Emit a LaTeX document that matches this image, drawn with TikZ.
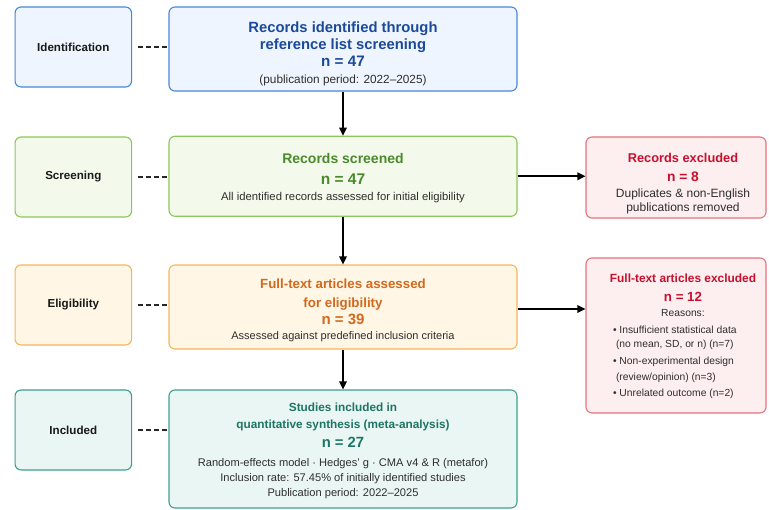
\documentclass[tikz,border=0pt]{standalone}
\usepackage{fontspec}
\setmainfont{Liberation Sans}
\usetikzlibrary{arrows.meta}
\definecolor{bluebd}{HTML}{4A87D9}
\definecolor{bluefl}{HTML}{EEF5FE}
\definecolor{bluetx}{HTML}{1C4A9A}
\definecolor{grnbd}{HTML}{8DC65B}
\definecolor{grnfl}{HTML}{F3FAEC}
\definecolor{grntx}{HTML}{4B8A2C}
\definecolor{orgbd}{HTML}{F7B55B}
\definecolor{orgfl}{HTML}{FFF6E5}
\definecolor{orgtx}{HTML}{D2691E}
\definecolor{tealbd}{HTML}{3FA08E}
\definecolor{tealfl}{HTML}{E9F6F3}
\definecolor{tealtx}{HTML}{1E7566}
\definecolor{redbd}{HTML}{E5737A}
\definecolor{redfl}{HTML}{FDEEEF}
\definecolor{redtx}{HTML}{C8102E}
\definecolor{bodytx}{HTML}{2E2E2E}
\newcommand\myfs[2]{\fontsize{#1}{#2}\selectfont}
\newcommand\mytop[1]{\rule{0pt}{#1}}
\newcommand\mysh{\hspace*{14pt}}
\begin{document}
\begin{tikzpicture}[x=1pt,y=-1pt,
  box/.style={draw, rounded corners=6pt, line width=1.1pt, align=center, inner sep=0pt, text=bodytx},
  stagebox/.style={box, minimum width=116.5pt, minimum height=80pt, font=\bfseries\myfs{11.6}{14}, text=black!90},
  mainbox/.style={box, minimum width=348pt},
  exbox/.style={box, minimum width=180pt, draw=redbd, fill=redfl},
  bluec/.style={draw=bluebd, fill=bluefl},
  grnc/.style={draw=grnbd, fill=grnfl},
  orgc/.style={draw=orgbd, fill=orgfl},
  tealc/.style={draw=tealbd, fill=tealfl},
  arr/.style={line width=1.6pt, draw=black, -{Triangle[length=8pt,width=7.5pt]}},
  dl/.style={line width=1.5pt, draw=black!85, dash pattern=on 5pt off 3pt}
]
\useasboundingbox[fill=white] (0,0) rectangle (769,510);

% stage labels
\node[stagebox, bluec] (lid) at (73.3,47) {Identification};
\node[stagebox, grnc] (lsc) at (73.3,177) {Screening};
\node[stagebox, orgc] (lel) at (73.3,305) {Eligibility};
\node[stagebox, tealc] (lin) at (73.3,430) {Included};

% main boxes
\node[mainbox, bluec, minimum height=84pt, font=\myfs{10}{16.6}] (b1) at (343,49) {%
  \mytop{20pt}{\color{bluetx}\bfseries\myfs{14.8}{17}Records identified through}\\
  {\color{bluetx}\bfseries\myfs{14.8}{17}reference list screening}\\[1.2pt]
  {\color{bluetx}\bfseries\myfs{15.2}{17}n = 47}\\[-0.5pt]
  {\myfs{11.8}{14}(publication period: 2022–2025)}};

\node[mainbox, grnc, minimum height=80pt, font=\myfs{10}{15.9}] (b2) at (343,176.3) {%
  \mytop{13.5pt}{\color{grntx}\bfseries\myfs{14}{16}Records screened}\\[4.6pt]
  {\color{grntx}\bfseries\myfs{15.5}{17}n = 47}\\
  {\myfs{11.3}{13}All identified records assessed for initial eligibility}};

\node[mainbox, orgc, minimum height=84pt, font=\myfs{10}{15}] (b3) at (343,307) {%
  \mytop{15.8pt}{\color{orgtx}\bfseries\myfs{13.3}{15}Full-text articles assessed}\\[4pt]
  {\color{orgtx}\bfseries\myfs{13.3}{15}for eligibility}\\[1.6pt]
  {\color{orgtx}\bfseries\myfs{15}{17}n = 39}\\[-0.1pt]
  {\myfs{11}{13}Assessed against predefined inclusion criteria}};

\node[mainbox, tealc, minimum height=118pt, font=\myfs{10}{15}] (b4) at (343,449) {%
  \mytop{11.6pt}{\color{tealtx}\bfseries\myfs{11.8}{14}Studies included in}\\[2pt]
  {\color{tealtx}\bfseries\myfs{11.8}{14}quantitative synthesis (meta-analysis)}\\[4.1pt]
  {\color{tealtx}\bfseries\myfs{14.8}{17}n = 27}\\[4pt]
  {\myfs{11.1}{13}Random-effects model · Hedges’ g · CMA v4 \& R (metafor)}\\
  {\myfs{11.1}{13}Inclusion rate: 57.45\% of initially identified studies}\\
  {\myfs{11.1}{13}Publication period: 2022–2025}};

% exclusion boxes
\node[exbox, minimum height=81pt, font=\myfs{10}{14}] (e1) at (676,177.5) {%
  \mysh\mytop{21pt}{\color{redtx}\bfseries\myfs{12.8}{15}Records excluded}\\[5.3pt]
  \mysh{\color{redtx}\bfseries\myfs{13.8}{16}n = 8}\\[1.7pt]
  \mysh{\myfs{12}{14}Duplicates \& non-English}\\
  \mysh{\myfs{12}{14}publications removed}};

\node[exbox, minimum height=155pt, font=\myfs{10.3}{16}] (e2) at (676,335.5) {%
  \mysh\mytop{10pt}{\color{redtx}\bfseries\myfs{11.9}{14}Full-text articles excluded}\\[2.5pt]
  \mysh{\color{redtx}\bfseries\myfs{13.3}{16}n = 12}\\[-0.7pt]
  \mysh{Reasons:}\\[1pt]
  \mysh\makebox[140pt][l]{•\ Insufficient statistical data}\\[-2pt]
  \mysh\makebox[140pt][l]{\hspace*{3pt}(no mean, SD, or n) (n=7)}\\[1pt]
  \mysh\makebox[140pt][l]{•\ Non-experimental design}\\
  \mysh\makebox[140pt][l]{\hspace*{3pt}(review/opinion) (n=3)}\\
  \mysh\makebox[140pt][l]{•\ Unrelated outcome (n=2)}};

% dashed links
\draw[dl] ([xshift=5.5pt]lid.east) -- (lid.east -| b1.west);
\draw[dl] ([xshift=5.5pt]lsc.east) -- (lsc.east -| b2.west);
\draw[dl] ([xshift=5.5pt]lel.east) -- (lel.east -| b3.west);
\draw[dl] ([xshift=5.5pt]lin.east) -- (lin.east -| b4.west);

% flow arrows
\draw[arr] (b1.south) -- (b2.north);
\draw[arr] (b2.south) -- (b3.north);
\draw[arr] (b3.south) -- (b4.north);
\draw[arr] (b2.east) -- (b2.east -| e1.west);
\draw[arr] ([yshift=-2pt]b3.east) -- ([yshift=-2pt]b3.east -| e2.west);
\end{tikzpicture}
\end{document}
